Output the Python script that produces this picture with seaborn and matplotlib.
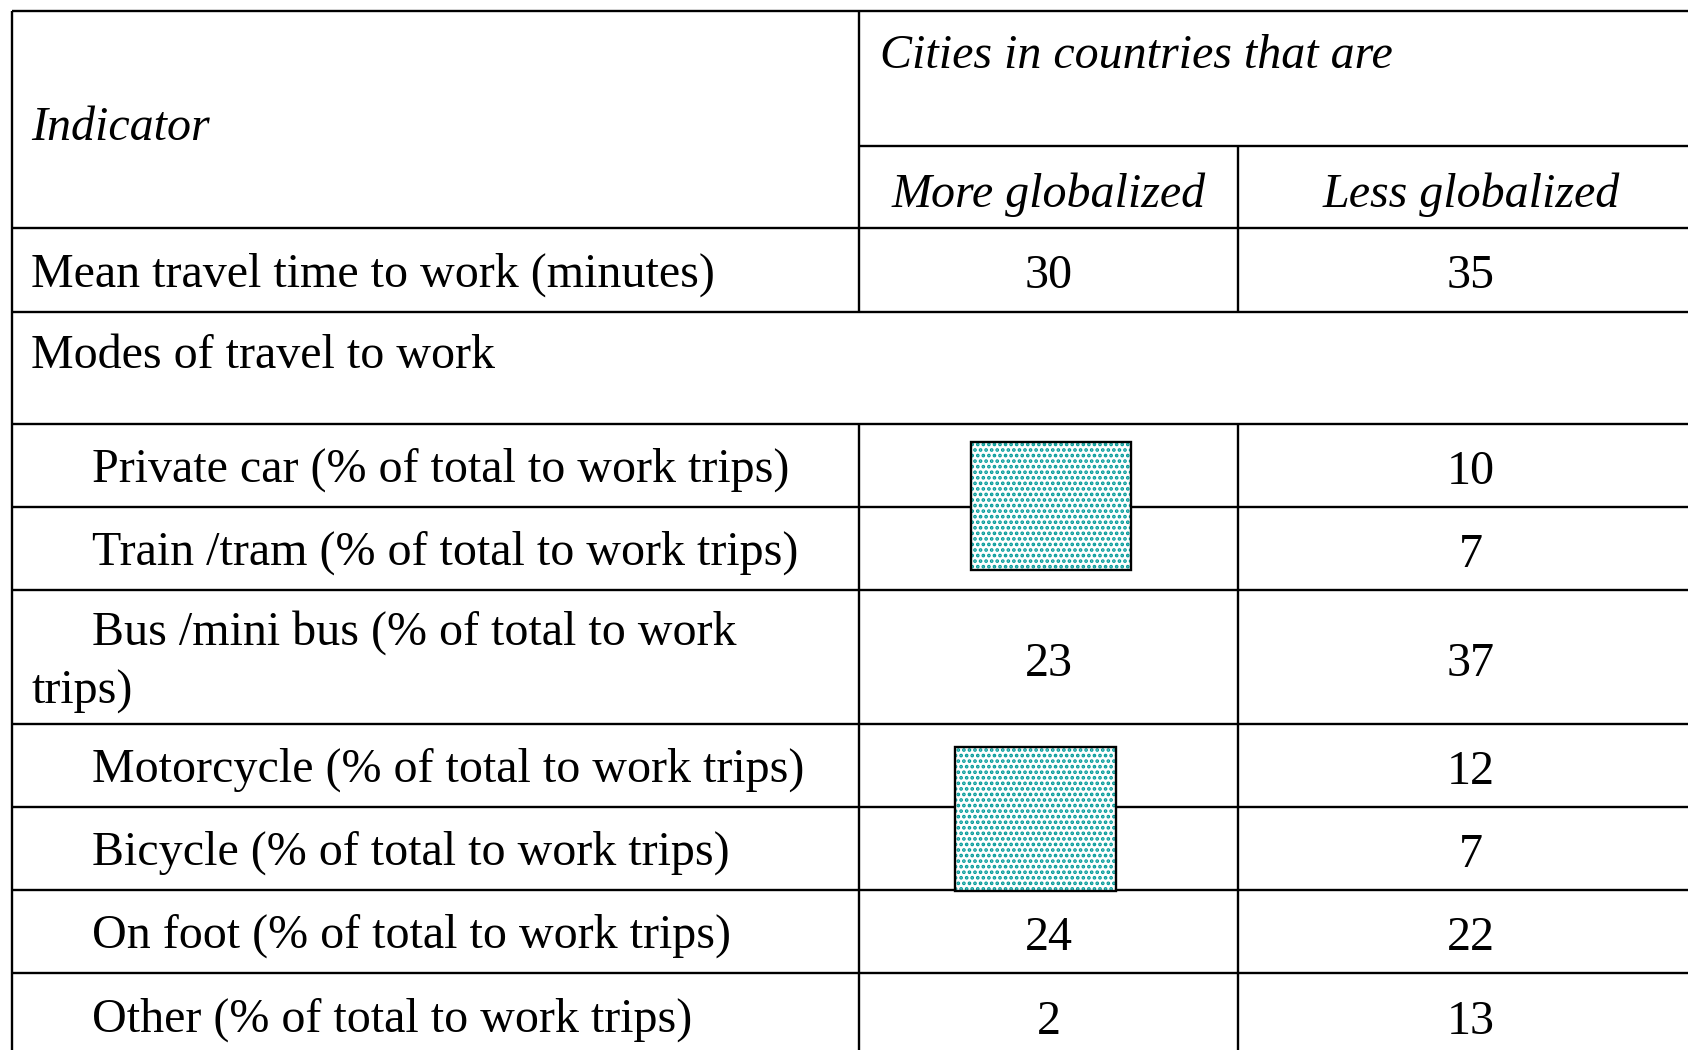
import matplotlib
matplotlib.use("Agg")
import matplotlib.pyplot as plt
import seaborn as sns
from matplotlib.patches import Rectangle

sns.set_theme(style="white")
plt.rcParams['font.family'] = ['Liberation Serif', 'DejaVu Serif']
plt.rcParams['hatch.linewidth'] = 1.8

# ---- data ----
header_indicator = "Indicator"
header_group = "Cities in countries that are"
col_labels = ["More globalized", "Less globalized"]
indicators = [
    "Mean travel time to work (minutes)",
    "Modes of travel to work",
    "Private car (% of total to work trips)",
    "Train /tram (% of total to work trips)",
    "Bus /mini bus (% of total to work\ntrips)",
    "Motorcycle (% of total to work trips)",
    "Bicycle (% of total to work trips)",
    "On foot (% of total to work trips)",
    "Other (% of total to work trips)",
]
indent = [False, False, True, True, True, True, True, True, True]
more_globalized = ["30", "", "", "", "23", "", "", "24", "2"]
less_globalized = ["35", "", "10", "7", "37", "12", "7", "22", "13"]

# ---- layout (pixels) ----
W, H = 1688, 1050
x_left, x_c1, x_c2, x_right = 12, 859, 1238, 1704
y_top, y_sub, y_head = 11, 146, 228
row_bounds = [228, 312, 424, 507, 590, 724, 807, 890, 973, 1060]
lw = 1.7
fs = 34.6
dy = 4.5

fig = plt.figure(figsize=(W / 100, H / 100), dpi=100)
ax = fig.add_axes([0, 0, 1, 1])
ax.set_xlim(0, W)
ax.set_ylim(H, 0)
ax.axis("off")

# borders
ax.vlines(x_left, y_top, H + 5, color="black", lw=lw)
ax.hlines(y_top, x_left, x_right, color="black", lw=lw)
ax.vlines(x_c1, y_top, row_bounds[1], color="black", lw=lw)
ax.vlines(x_c1, row_bounds[2], H + 5, color="black", lw=lw)
ax.vlines(x_c2, y_sub, row_bounds[1], color="black", lw=lw)
ax.vlines(x_c2, row_bounds[2], H + 5, color="black", lw=lw)
ax.hlines(y_sub, x_c1, x_right, color="black", lw=lw)
for yb in row_bounds[:-1]:
    ax.hlines(yb, x_left, x_right, color="black", lw=lw)

# header text
ax.text(31, 124 + dy, header_indicator, fontsize=fs, style="italic", va="center", ha="left", color="black")
ax.text(880, 50 + dy + 1, header_group, fontsize=fs, style="italic", va="center", ha="left", color="black")
c1 = (x_c1 + x_c2) / 2
c2 = (x_c2 + x_right) / 2
ax.text(c1, 190 + dy, col_labels[0], fontsize=fs, style="italic", va="center", ha="center", color="black")
ax.text(c2, 190 + dy, col_labels[1], fontsize=fs, style="italic", va="center", ha="center", color="black")

# rows
for i, label in enumerate(indicators):
    y0, y1 = row_bounds[i], row_bounds[i + 1]
    if i == 1:
        ax.text(31, y0 + 40 + dy, label, fontsize=fs, va="center", ha="left", color="black")
        continue
    ymid = ((y0 + y1) / 2 if i < 8 else y0 + 42) + dy
    if "\n" in label:
        first, second = label.split("\n")
        ax.text(92, ymid - 29, first, fontsize=fs, va="center", ha="left", color="black")
        ax.text(31, ymid + 30, second, fontsize=fs, va="center", ha="left", color="black")
    else:
        ax.text(92 if indent[i] else 31, ymid, label, fontsize=fs, va="center", ha="left", color="black")
    ax.text(c1, ymid + 2, more_globalized[i], fontsize=fs, va="center", ha="center", color="black")
    ax.text(c2, ymid + 2, less_globalized[i], fontsize=fs, va="center", ha="center", color="black")

# shaded boxes (covering hidden values)
for (bx, by, bw, bh) in [(971, 442, 160, 128), (955, 747, 161, 144)]:
    ax.add_patch(Rectangle((bx, by), bw, bh, facecolor="white", edgecolor="#009a99",
                           hatch="...", lw=0, zorder=3))
    ax.add_patch(Rectangle((bx, by), bw, bh, facecolor="none", edgecolor="black",
                           lw=lw, zorder=4))

fig.savefig("out.png", dpi=100)
